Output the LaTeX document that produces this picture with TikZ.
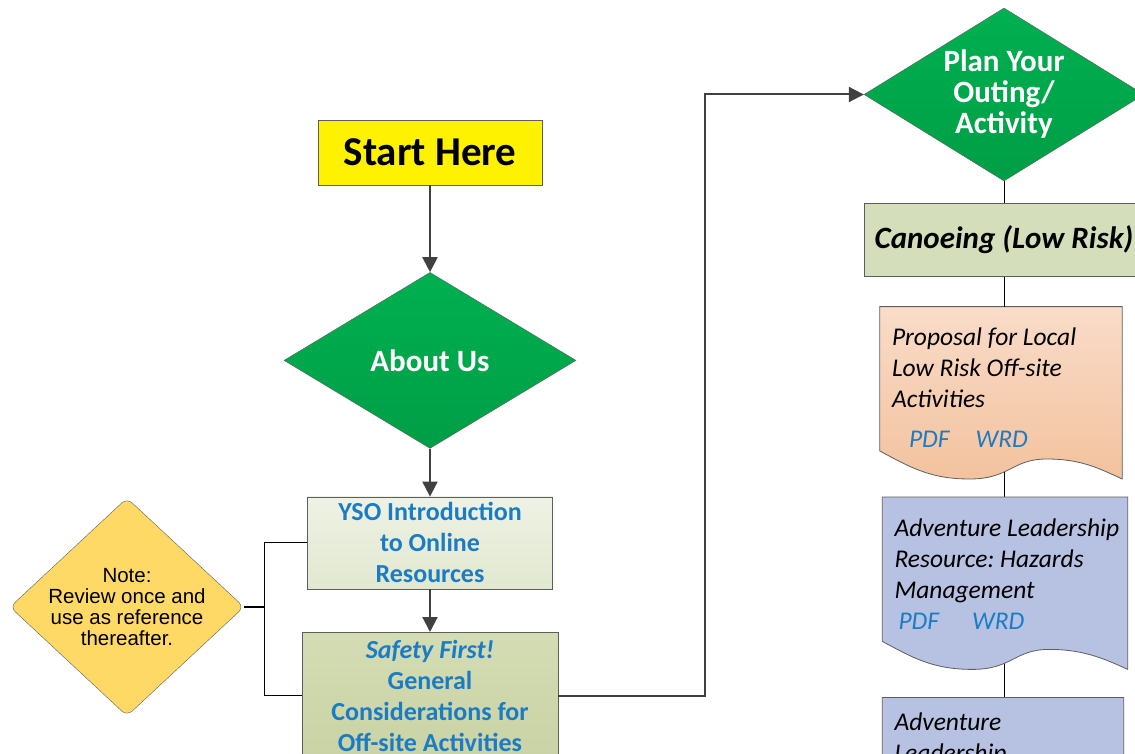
\documentclass[tikz,border=0pt]{standalone}
\usepackage{fontspec}
\setmainfont{Carlito}
\newfontfamily\notefont{Liberation Sans}
\usetikzlibrary{arrows.meta,positioning,shapes.geometric,backgrounds,calc}
\frenchspacing
\definecolor{edgegray}{HTML}{5E5E5E}
\definecolor{flowgray}{HTML}{404040}
\definecolor{linkblue}{HTML}{1B7CC4}
\definecolor{leafgreen}{HTML}{00B050}
\definecolor{leafdark}{HTML}{009E46}
\definecolor{introtop}{HTML}{EEF2E5}
\definecolor{introbot}{HTML}{E1E8CF}
\definecolor{safetytop}{HTML}{D4DCB4}
\definecolor{safetybot}{HTML}{C9D3A4}
\definecolor{canoefill}{HTML}{D5DEBA}
\definecolor{peachtop}{HTML}{F9DCC9}
\definecolor{peachbot}{HTML}{F3C29E}
\definecolor{lavender}{HTML}{B7C1E1}
\definecolor{notefill}{HTML}{FFD966}
\newcommand{\links}[2]{\hspace*{#1}\textcolor{linkblue}{PDF\hspace{#2}WRD}}
\newcommand{\doctext}[3]{\parbox[c][172pt][t]{#1}{\raggedright\leftskip=12pt\vspace*{#2}#3}}
\newcommand{\docoutline}[2]{%
  \draw[docedge, #2] (#1.north west) -- (#1.north east) -- (#1.south east)
    .. controls +(-22,10) and +(35,0) .. ($(#1.south west)+(167,20)$)
    .. controls +(-35,0) and +(40,0) .. ($(#1.south west)+(90,0)$)
    .. controls +(-40,0) and +(30,-16) .. ($(#1.south west)+(0,28)$) -- cycle;}

\begin{document}
\begin{tikzpicture}[
  x=1pt, y=1pt,
  startbox/.style={draw=edgegray, fill=yellow, minimum width=224, minimum height=65,
                   font=\fontsize{41}{44}\selectfont\bfseries},
  decision/.style={diamond, draw=edgegray, top color=leafgreen, bottom color=leafdark,
                   inner sep=0pt},
  decisiontext/.style={text=white, align=center, inner sep=0pt,
                       font=\fontsize{31}{31}\selectfont\bfseries},
  infobox/.style={draw=edgegray, align=center, text=linkblue, inner sep=0pt,
                  font=\fontsize{26}{31}\selectfont\bfseries},
  activity/.style={draw=edgegray, fill=canoefill, minimum width=280, minimum height=73,
                   font=\fontsize{31}{31}\selectfont\bfseries\itshape},
  docbox/.style={inner sep=0pt, font=\fontsize{25.5}{31}\selectfont\itshape},
  docedge/.style={draw=edgegray, line width=0.8pt},
  notebox/.style={diamond, draw=edgegray, fill=notefill, rounded corners=7pt,
                  minimum width=234, minimum height=218, inner sep=0pt},
  notetext/.style={align=center, inner sep=0pt,
                   font=\notefont\fontsize{20.5}{21}\selectfont},
  flow/.style={-{Triangle[length=15pt,width=15pt]}, line width=2pt, draw=flowgray},
  tie/.style={line width=1.2pt},
  thread/.style={line width=0.9pt}
]
\useasboundingbox (0,0) rectangle (1135,-754);

% left column
\node[startbox] (start) at (430,-152.5) {Start Here};
\node[decision, minimum width=292, minimum height=176, below=87pt of start,
      label={[decisiontext]center:About Us}] (about) {};
\node[infobox, top color=introtop, bottom color=introbot, minimum width=245,
      minimum height=92, below=48pt of about] (intro) {YSO Introduction\\to Online\\Resources};
\node[infobox, top color=safetytop, bottom color=safetybot, minimum width=256,
      minimum height=127, below=43pt of intro] (safety)
      {\textit{Safety First!}\\General\\Considerations for\\Off-site Activities};
\node[notebox, label={[notetext]center:Note:\\Review once and\\use as reference\\thereafter.}]
      (note) at (127,-607) {};

% right column
\node[decision, minimum width=280, minimum height=173,
      label={[decisiontext]center:Plan Your\\Outing/\\Activity}] (plan) at (1004,-94.5) {};
\node[activity, below=22pt of plan] (canoe) {Canoeing (Low Risk)};
\node[docbox, below=30pt of canoe, xshift=-3pt] (doc1)
      {\doctext{242pt}{21pt}{Proposal for Local\\Low Risk Off-site\\Activities\\[9pt]\links{17pt}{26pt}}};
\node[docbox, below=18pt of doc1, xshift=4pt] (doc2)
      {\doctext{245pt}{22pt}{Adventure Leadership\\Resource: Hazards\\Management\\\links{4pt}{33pt}}};
\node[docbox, below=28pt of doc2, xshift=-2pt] (doc3)
      {\doctext{241pt}{15pt}{Adventure\\Leadership}};

\begin{scope}[on background layer]
  \draw[thread] (canoe.south |- doc1.center) -- (canoe.south |- doc2.center);
  \draw[thread] (canoe.south |- doc2.center) -- (canoe.south |- doc3.center);
  \docoutline{doc1}{top color=peachtop, bottom color=peachbot}
  \docoutline{doc2}{fill=lavender}
  \docoutline{doc3}{fill=lavender}
\end{scope}

\draw[flow] (start) -- (about);
\draw[flow] (about) -- (intro);
\draw[flow] (intro) -- (safety);
\draw[flow] (safety.east) -- ++(147,0) |- (plan.west);
\draw[tie] (note.east) -- ++(20,0) coordinate (fork);
\draw[tie] (intro.west) -| (fork) |- (safety.west);
\draw[thread] (plan) -- (canoe);
\draw[thread] (canoe.south) -- (canoe.south |- doc1.north);
\end{tikzpicture}
\end{document}
